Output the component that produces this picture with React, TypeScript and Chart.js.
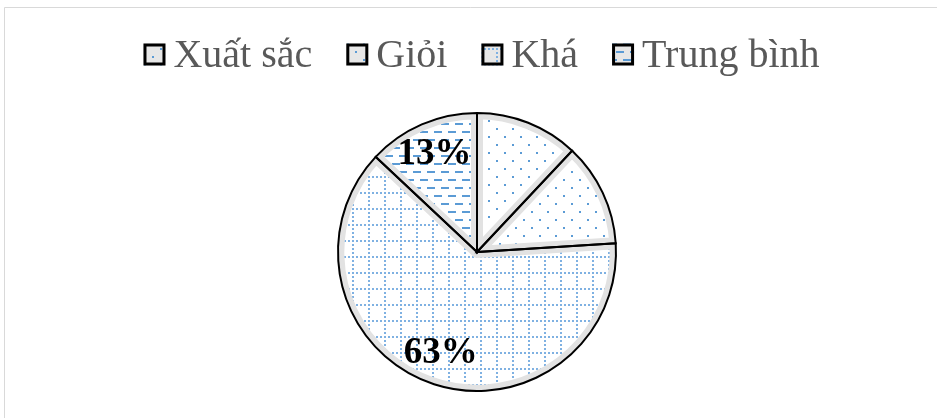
import React, { useEffect, useRef } from "react";
import { Chart, registerables } from "chart.js";

Chart.register(...registerables);

const categories = ["Xuất sắc", "Giỏi", "Khá", "Trung bình"];
const values = [12, 12, 63, 13];
const showValueLabel = [false, false, true, true];
const patternKinds = ["dots", "dots2", "grid", "dashes"];

const BLUE = "#5b9bd5";

function makeTile(kind: string, bg: string): HTMLCanvasElement {
  const c = document.createElement("canvas");
  let w = 16, h = 16;
  if (kind === "dashes") { w = 14; h = 16; }
  c.width = w; c.height = h;
  const g = c.getContext("2d")!;
  g.fillStyle = bg;
  g.fillRect(0, 0, w, h);
  g.fillStyle = BLUE;
  if (kind === "dots") {
    g.fillRect(0, 0, 2, 2);
    g.fillRect(8, 8, 2, 2);
  } else if (kind === "dots2") {
    g.fillRect(3, 3, 2, 2);
    g.fillRect(11, 11, 2, 2);
  } else if (kind === "grid") {
    g.fillStyle = "#7fb1e2";
    for (let i = 0; i < 16; i += 4) {
      g.fillRect(i, 0, 2, 2);
      if (i > 0) g.fillRect(0, i, 2, 2);
    }
  } else if (kind === "dashes") {
    g.fillRect(0, 3, 8, 2);
    g.fillRect(7, 11, 8, 2);
    g.fillRect(-7, 11, 8, 2);
  }
  return c;
}

function makePattern(kind: string, bg: string): CanvasPattern {
  const ctx = document.createElement("canvas").getContext("2d")!;
  return ctx.createPattern(makeTile(kind, bg), "repeat")!;
}

export default function App() {
  const ref = useRef<HTMLCanvasElement>(null);

  useEffect(() => {
    if (!ref.current) return;
    const slicePatterns = patternKinds.map((k) => makePattern(k, "#ffffff"));
    const legendPatterns = patternKinds.map((k) => makePattern(k, "#e7e7e7"));
    const total = values.reduce((a, b) => a + b, 0);

    const framePlugin = {
      id: "frame",
      beforeDraw(chart: any) {
        const ctx = chart.ctx;
        ctx.save();
        ctx.fillStyle = "#ffffff";
        ctx.fillRect(0, 0, chart.width, chart.height);
        ctx.strokeStyle = "#d9d9d9";
        ctx.lineWidth = 1;
        ctx.beginPath();
        ctx.moveTo(4.5, chart.height);
        ctx.lineTo(4.5, 7.5);
        ctx.lineTo(chart.width, 7.5);
        ctx.stroke();
        ctx.restore();
      },
    };

    const legendPlugin = {
      id: "customLegend",
      afterDraw(chart: any) {
        const ctx = chart.ctx;
        ctx.save();
        ctx.font = "40px 'Liberation Serif', 'Times New Roman', serif";
        const box = 22, gapText = 8, gapItem = 34;
        const widths = categories.map((c) => ctx.measureText(c).width);
        let totalW = 0;
        widths.forEach((w, i) => {
          totalW += box + gapText + w + (i < widths.length - 1 ? gapItem : 0);
        });
        let x = 481.5 - totalW / 2;
        const boxTop = 43.5;
        const baseline = 67;
        categories.forEach((c, i) => {
          ctx.fillStyle = legendPatterns[i];
          ctx.fillRect(x, boxTop, box, box);
          ctx.strokeStyle = "#000000";
          ctx.lineWidth = 3;
          ctx.strokeRect(x + 1.5, boxTop + 1.5, box - 3, box - 3);
          ctx.fillStyle = "#595959";
          ctx.textAlign = "left";
          ctx.textBaseline = "alphabetic";
          ctx.fillText(c, x + box + gapText, baseline);
          x += box + gapText + widths[i] + gapItem;
        });
        ctx.restore();
      },
    };

    const outlinePlugin = {
      id: "outline",
      afterDatasetsDraw(chart: any) {
        const ctx = chart.ctx;
        const meta = chart.getDatasetMeta(0);
        ctx.save();
        ctx.strokeStyle = "#000000";
        ctx.lineWidth = 2;
        ctx.lineJoin = "miter";
        meta.data.forEach((arc: any) => {
          const p = arc.getProps(["x", "y", "startAngle", "endAngle", "outerRadius"], true);
          ctx.beginPath();
          ctx.moveTo(p.x, p.y);
          ctx.arc(p.x, p.y, p.outerRadius, p.startAngle, p.endAngle);
          ctx.closePath();
          ctx.stroke();
        });
        ctx.font = "bold 37px 'Liberation Serif', 'Times New Roman', serif";
        ctx.fillStyle = "#000000";
        ctx.textAlign = "center";
        ctx.textBaseline = "middle";
        meta.data.forEach((arc: any, i: number) => {
          if (!showValueLabel[i]) return;
          const p = arc.getProps(["x", "y", "startAngle", "endAngle", "outerRadius"], true);
          const mid = (p.startAngle + p.endAngle) / 2;
          const r = p.outerRadius * 0.77;
          const pct = Math.round((values[i] / total) * 100) + "%";
          ctx.fillText(pct, p.x + Math.cos(mid) * r, p.y + Math.sin(mid) * r + 1);
        });
        ctx.restore();
      },
    };

    const chart = new Chart(ref.current, {
      type: "pie",
      data: {
        labels: categories,
        datasets: [
          {
            data: values,
            backgroundColor: slicePatterns as any,
            borderColor: "#e2e2e2",
            borderWidth: 6,
            borderAlign: "inner",
          } as any,
        ],
      },
      options: {
        animation: false,
        responsive: false,
        maintainAspectRatio: false,
        layout: { padding: { top: 113, bottom: 27, left: 200, right: 183 } },
        plugins: {
          legend: { display: false },
          tooltip: { enabled: false },
          title: { display: false },
        },
      },
      plugins: [framePlugin, legendPlugin, outlinePlugin],
    });
    return () => chart.destroy();
  }, []);

  return (
    <div style={{ position: "absolute", left: 0, top: 0, width: 937, height: 418 }}>
      <canvas ref={ref} width={937} height={418} style={{ display: "block", width: 937, height: 418 }} />
    </div>
  );
}
